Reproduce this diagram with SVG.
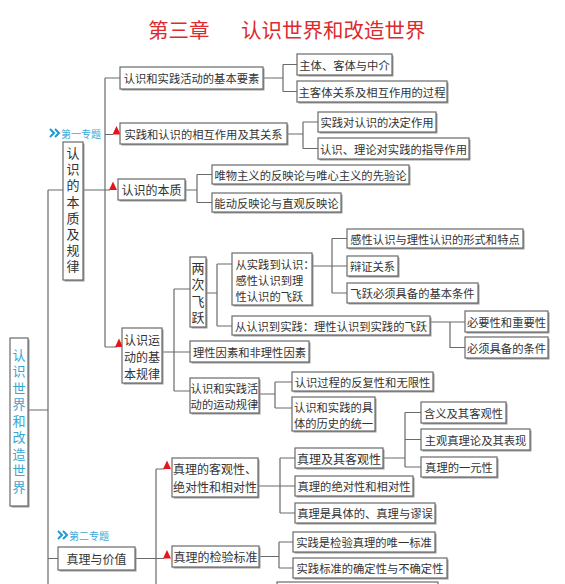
<svg xmlns="http://www.w3.org/2000/svg" width="565" height="584" viewBox="0 0 565 584">
<style>
.bg{fill:#fff}
.sh{fill:#9a9a9a}
.bx{fill:#fff;stroke:#6a6a6a;stroke-width:1.2}
.t{font-family:"Noto Sans CJK SC","Noto Sans",sans-serif;font-size:11.3px;fill:#333;text-anchor:middle;dominant-baseline:central}
.tl{text-anchor:start}
.t12{font-size:12px}
.vt{font-family:"Noto Sans CJK SC","Noto Sans",sans-serif;font-size:13px;fill:#333;writing-mode:vertical-rl;text-orientation:upright;text-anchor:start}
.blue{fill:#38a6d2}
.title{font-family:"Noto Sans CJK SC",sans-serif;font-size:20.5px;fill:#dd2a2e}
.c{fill:none;stroke:#6a6a6a;stroke-width:1.2}
.tri{fill:#e8141c}
.chev{fill:none;stroke:#1c9ad6;stroke-width:2}
.lab{font-family:"Noto Sans CJK SC",sans-serif;font-size:10px;fill:#3aaad6;dominant-baseline:central}
</style>
<rect class="bg" x="0" y="0" width="565" height="584"/>
<text class="title" x="148" y="38">第三章</text>
<text class="title" x="241" y="38">认识世界和改造世界</text>

<g id="connectors">
<path class="c" d="M28 410H48M48 190V584M48 190H63M48 558.5H58"/>
<path class="c" d="M83 190H110M105 78V347M105 78H120M105 134.5H113M105 347H117"/>
<path class="c" d="M263 78H283M283 64.5V91.5M283 64.5H297M283 91.5H297"/>
<path class="c" d="M287 134H303M303 122V148.5M303 122H318M303 148.5H318"/>
<path class="c" d="M185 190H197M197 174.5V202.5M197 174.5H212M197 202.5H212"/>
<path class="c" d="M162 352H174M174 289V391M174 289H190M174 352H190M174 391H190"/>
<path class="c" d="M206 293H217M217 264V326M217 264H232M217 326H232"/>
<path class="c" d="M312 266H332M332 238.5V293M332 238.5H347M332 266H347M332 293H347"/>
<path class="c" d="M430 322H465M450 322V347.5H465"/>
<path class="c" d="M259 394H275M275 382V408M275 382H292M275 408H292"/>
<path class="c" d="M135 558.5H164M156 469V584M156 469H164"/>
<path class="c" d="M258 486H295M280 458V513M280 458H295M280 513H295"/>
<path class="c" d="M383 458H405M405 412.5V467M405 412.5H421M405 439.5H421M405 467H421"/>
<path class="c" d="M259 556.5H279M279 542V568M279 542H293M279 568H293"/>
</g>

<g id="markers">
<path class="tri" d="M112.5 134.5L116.5 126L120.5 134.5Z"/>
<path class="tri" d="M109 190L113 181.5L117 190Z"/>
<path class="tri" d="M115 347L119 338.5L123 347Z"/>
<path class="tri" d="M163 469L167 460.5L171 469Z"/>
<path class="tri" d="M163 558.5L167 550L171 558.5Z"/>
</g>

<g id="label1">
<path class="chev" d="M50 129L54 133L50 137M55 129L59 133L55 137"/>
<text class="lab" x="61" y="133">第一专题</text>
</g>
<g id="label2">
<path class="chev" d="M58 531L62 535L58 539M63 531L67 535L63 539"/>
<text class="lab" x="69" y="535">第二专题</text>
</g>

<g id="root">
<rect class="sh" x="11.5" y="339.5" width="18" height="168"/>
<rect class="bx" x="10" y="338" width="18" height="168"/>
<text class="vt blue" x="19" y="348.5" letter-spacing="3.5">认识世界和改造世界</text>
</g>

<g id="topic1">
<rect class="sh" x="64.5" y="143.5" width="20" height="138"/>
<rect class="bx" x="63" y="142" width="20" height="138"/>
<text class="vt" x="73" y="146.5" letter-spacing="3.2">认识的本质及规律</text>
</g>

<g id="n1"><rect class="sh" x="121.5" y="68.5" width="143" height="22"/><rect class="bx" x="120" y="67" width="143" height="22"/><text class="t" x="191.5" y="78">认识和实践活动的基本要素</text></g>
<g id="n2"><rect class="sh" x="298.5" y="55.5" width="95" height="21"/><rect class="bx" x="297" y="54" width="95" height="21"/><text class="t" x="344.5" y="64.5">主体、客体与中介</text></g>
<g id="n3"><rect class="sh" x="298.5" y="82.5" width="150" height="21"/><rect class="bx" x="297" y="81" width="150" height="21"/><text class="t" x="372" y="91.5">主客体关系及相互作用的过程</text></g>

<g id="n4"><rect class="sh" x="121.5" y="124.5" width="167" height="21"/><rect class="bx" x="120" y="123" width="167" height="21"/><text class="t" x="203.5" y="133.5">实践和认识的相互作用及其关系</text></g>
<g id="n5"><rect class="sh" x="319.5" y="113.5" width="118" height="20"/><rect class="bx" x="318" y="112" width="118" height="20"/><text class="t" x="377" y="122">实践对认识的决定作用</text></g>
<g id="n6"><rect class="sh" x="319.5" y="139.5" width="151" height="21"/><rect class="bx" x="318" y="138" width="151" height="21"/><text class="t" x="393.5" y="148.5">认识、理论对实践的指导作用</text></g>

<g id="n7"><rect class="sh" x="119.5" y="180.5" width="67" height="21"/><rect class="bx" x="118" y="179" width="67" height="21"/><text class="t t12" x="151.5" y="189.5">认识的本质</text></g>
<g id="n8"><rect class="sh" x="213.5" y="166.5" width="197" height="19"/><rect class="bx" x="212" y="165" width="197" height="19"/><text class="t" x="310.5" y="174.5">唯物主义的反映论与唯心主义的先验论</text></g>
<g id="n9"><rect class="sh" x="213.5" y="194.5" width="129" height="19"/><rect class="bx" x="212" y="193" width="129" height="19"/><text class="t" x="276.5" y="202.5">能动反映论与直观反映论</text></g>

<g id="n10"><rect class="sh" x="123.5" y="329.5" width="40" height="55"/><rect class="bx" x="122" y="328" width="40" height="55"/>
<text class="t t12" x="142" y="339">认识运</text><text class="t t12" x="142" y="356">动的基</text><text class="t t12" x="142" y="373">本规律</text></g>

<g id="n11"><rect class="sh" x="191.5" y="258.5" width="16" height="70"/><rect class="bx" x="190" y="257" width="16" height="70"/>
<text class="vt" x="198" y="261.5" letter-spacing="3.5">两次飞跃</text></g>

<g id="n12"><rect class="sh" x="233.5" y="254.5" width="80" height="52"/><rect class="bx" x="232" y="253" width="80" height="52"/>
<text class="t tl" x="235.5" y="264">从实践到认识：</text><text class="t tl" x="235.5" y="280">感性认识到理</text><text class="t tl" x="235.5" y="296">性认识的飞跃</text></g>

<g id="n13"><rect class="sh" x="348.5" y="230.5" width="176" height="19"/><rect class="bx" x="347" y="229" width="176" height="19"/><text class="t" x="435" y="238.5">感性认识与理性认识的形式和特点</text></g>
<g id="n14"><rect class="sh" x="348.5" y="257.5" width="51" height="20"/><rect class="bx" x="347" y="256" width="51" height="20"/><text class="t" x="372.5" y="266">辩证关系</text></g>
<g id="n15"><rect class="sh" x="348.5" y="284.5" width="131" height="20"/><rect class="bx" x="347" y="283" width="131" height="20"/><text class="t" x="412.5" y="293">飞跃必须具备的基本条件</text></g>

<g id="n16"><rect class="sh" x="233.5" y="317.5" width="198" height="19"/><rect class="bx" x="232" y="316" width="198" height="19"/><text class="t" x="331" y="325.5">从认识到实践：理性认识到实践的飞跃</text></g>
<g id="n17"><rect class="sh" x="466.5" y="312.5" width="83" height="21"/><rect class="bx" x="465" y="311" width="83" height="21"/><text class="t" x="506.5" y="321.5">必要性和重要性</text></g>
<g id="n18"><rect class="sh" x="466.5" y="338.5" width="83" height="21"/><rect class="bx" x="465" y="337" width="83" height="21"/><text class="t" x="506.5" y="347.5">必须具备的条件</text></g>

<g id="n19"><rect class="sh" x="191.5" y="342.5" width="119" height="21"/><rect class="bx" x="190" y="341" width="119" height="21"/><text class="t" x="249.5" y="351.5">理性因素和非理性因素</text></g>
<g id="n20"><rect class="sh" x="191.5" y="379.5" width="69" height="35"/><rect class="bx" x="190" y="378" width="69" height="35"/>
<text class="t" x="224.5" y="388">认识和实践活</text><text class="t" x="224.5" y="404">动的运动规律</text></g>
<g id="n21"><rect class="sh" x="293.5" y="373.5" width="141" height="19"/><rect class="bx" x="292" y="372" width="141" height="19"/><text class="t" x="362.5" y="381.5">认识过程的反复性和无限性</text></g>
<g id="n22"><rect class="sh" x="293.5" y="398.5" width="83" height="34"/><rect class="bx" x="292" y="397" width="83" height="34"/>
<text class="t" x="333.5" y="407">认识和实践的具</text><text class="t" x="333.5" y="423">体的历史的统一</text></g>

<g id="topic2"><rect class="sh" x="59.5" y="548.5" width="77" height="23"/><rect class="bx" x="58" y="547" width="77" height="23"/><text class="t t12" x="96.5" y="558.5">真理与价值</text></g>

<g id="n24"><rect class="sh" x="173.5" y="459.5" width="86" height="39"/><rect class="bx" x="172" y="458" width="86" height="39"/>
<text class="t t12" x="215" y="468">真理的客观性、</text><text class="t t12" x="215" y="486">绝对性和相对性</text></g>
<g id="n25"><rect class="sh" x="173.5" y="547.5" width="87" height="21"/><rect class="bx" x="172" y="546" width="87" height="21"/><text class="t t12" x="215.5" y="556.5">真理的检验标准</text></g>

<g id="n26"><rect class="sh" x="296.5" y="449.5" width="88" height="20"/><rect class="bx" x="295" y="448" width="88" height="20"/><text class="t t12" x="339" y="458">真理及其客观性</text></g>
<g id="n27"><rect class="sh" x="296.5" y="477.5" width="118" height="20"/><rect class="bx" x="295" y="476" width="118" height="20"/><text class="t" x="354" y="486">真理的绝对性和相对性</text></g>
<g id="n28"><rect class="sh" x="296.5" y="504.5" width="140" height="20"/><rect class="bx" x="295" y="503" width="140" height="20"/><text class="t" x="365" y="513">真理是具体的、真理与谬误</text></g>

<g id="n29"><rect class="sh" x="422.5" y="403.5" width="85" height="21"/><rect class="bx" x="421" y="402" width="85" height="21"/><text class="t" x="463.5" y="412.5">含义及其客观性</text></g>
<g id="n30"><rect class="sh" x="422.5" y="430.5" width="109" height="21"/><rect class="bx" x="421" y="429" width="109" height="21"/><text class="t" x="475.5" y="439.5">主观真理论及其表现</text></g>
<g id="n31"><rect class="sh" x="422.5" y="458.5" width="76" height="20"/><rect class="bx" x="421" y="457" width="76" height="20"/><text class="t" x="459" y="467">真理的一元性</text></g>

<g id="n32"><rect class="sh" x="294.5" y="533.5" width="142" height="20"/><rect class="bx" x="293" y="532" width="142" height="20"/><text class="t" x="364" y="542">实践是检验真理的唯一标准</text></g>
<g id="n33"><rect class="sh" x="294.5" y="559.5" width="154" height="20"/><rect class="bx" x="293" y="558" width="154" height="20"/><text class="t" x="370" y="568">实践标准的确定性与不确定性</text></g>

<g id="n34"><rect class="bx" x="277" y="582" width="161" height="12"/></g>
</svg>
